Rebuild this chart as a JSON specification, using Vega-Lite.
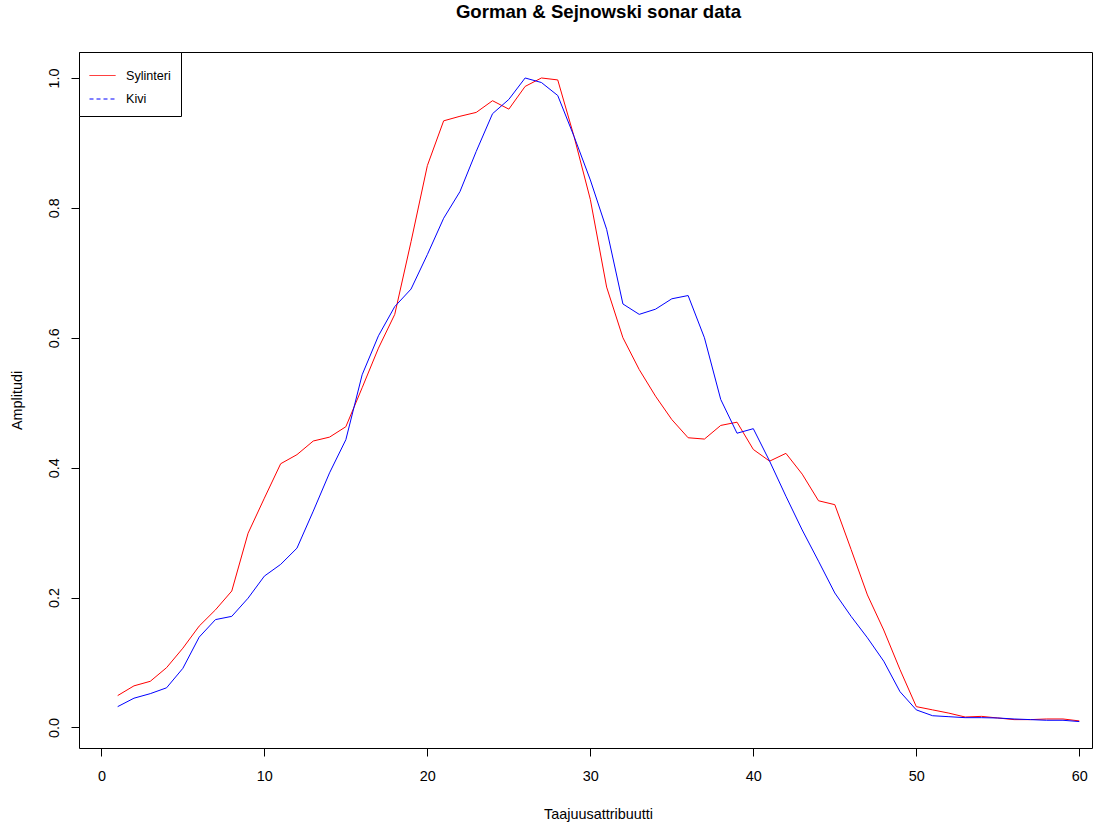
{
  "$schema": "https://vega.github.io/schema/vega-lite/v6.json",
  "autosize": {"type": "none"},
  "width": 1013,
  "height": 696,
  "padding": {"left": 79, "top": 52, "right": 15, "bottom": 75},
  "background": "white",
  "title": {
    "text": "Gorman & Sejnowski sonar data",
    "font": "Liberation Sans",
    "fontSize": 18.6,
    "fontWeight": "bold",
    "color": "black",
    "anchor": "middle",
    "offset": 30,
    "dx": 13
  },
  "config": {
    "view": {"stroke": "black", "strokeWidth": 1},
    "font": "Liberation Sans",
    "axis": {
      "grid": false,
      "domain": false,
      "tickColor": "black",
      "tickSize": 8,
      "labelFont": "Liberation Sans",
      "labelFontSize": 14.4,
      "labelColor": "black",
      "titleFont": "Liberation Sans",
      "titleFontSize": 14.4,
      "titleFontWeight": "normal",
      "titleColor": "black"
    }
  },
  "data": {
    "values": [
      {"attr": 1, "class": "Sylinteri", "amp": 0.049},
      {"attr": 2, "class": "Sylinteri", "amp": 0.064},
      {"attr": 3, "class": "Sylinteri", "amp": 0.071},
      {"attr": 4, "class": "Sylinteri", "amp": 0.092},
      {"attr": 5, "class": "Sylinteri", "amp": 0.122},
      {"attr": 6, "class": "Sylinteri", "amp": 0.156},
      {"attr": 7, "class": "Sylinteri", "amp": 0.181},
      {"attr": 8, "class": "Sylinteri", "amp": 0.210},
      {"attr": 9, "class": "Sylinteri", "amp": 0.299},
      {"attr": 10, "class": "Sylinteri", "amp": 0.353},
      {"attr": 11, "class": "Sylinteri", "amp": 0.406},
      {"attr": 12, "class": "Sylinteri", "amp": 0.420},
      {"attr": 13, "class": "Sylinteri", "amp": 0.441},
      {"attr": 14, "class": "Sylinteri", "amp": 0.447},
      {"attr": 15, "class": "Sylinteri", "amp": 0.463},
      {"attr": 16, "class": "Sylinteri", "amp": 0.523},
      {"attr": 17, "class": "Sylinteri", "amp": 0.584},
      {"attr": 18, "class": "Sylinteri", "amp": 0.636},
      {"attr": 19, "class": "Sylinteri", "amp": 0.748},
      {"attr": 20, "class": "Sylinteri", "amp": 0.865},
      {"attr": 21, "class": "Sylinteri", "amp": 0.934},
      {"attr": 22, "class": "Sylinteri", "amp": 0.941},
      {"attr": 23, "class": "Sylinteri", "amp": 0.947},
      {"attr": 24, "class": "Sylinteri", "amp": 0.965},
      {"attr": 25, "class": "Sylinteri", "amp": 0.952},
      {"attr": 26, "class": "Sylinteri", "amp": 0.987},
      {"attr": 27, "class": "Sylinteri", "amp": 1.000},
      {"attr": 28, "class": "Sylinteri", "amp": 0.997},
      {"attr": 29, "class": "Sylinteri", "amp": 0.910},
      {"attr": 30, "class": "Sylinteri", "amp": 0.813},
      {"attr": 31, "class": "Sylinteri", "amp": 0.678},
      {"attr": 32, "class": "Sylinteri", "amp": 0.600},
      {"attr": 33, "class": "Sylinteri", "amp": 0.551},
      {"attr": 34, "class": "Sylinteri", "amp": 0.510},
      {"attr": 35, "class": "Sylinteri", "amp": 0.474},
      {"attr": 36, "class": "Sylinteri", "amp": 0.446},
      {"attr": 37, "class": "Sylinteri", "amp": 0.444},
      {"attr": 38, "class": "Sylinteri", "amp": 0.465},
      {"attr": 39, "class": "Sylinteri", "amp": 0.470},
      {"attr": 40, "class": "Sylinteri", "amp": 0.428},
      {"attr": 41, "class": "Sylinteri", "amp": 0.410},
      {"attr": 42, "class": "Sylinteri", "amp": 0.422},
      {"attr": 43, "class": "Sylinteri", "amp": 0.390},
      {"attr": 44, "class": "Sylinteri", "amp": 0.349},
      {"attr": 45, "class": "Sylinteri", "amp": 0.343},
      {"attr": 46, "class": "Sylinteri", "amp": 0.274},
      {"attr": 47, "class": "Sylinteri", "amp": 0.204},
      {"attr": 48, "class": "Sylinteri", "amp": 0.150},
      {"attr": 49, "class": "Sylinteri", "amp": 0.089},
      {"attr": 50, "class": "Sylinteri", "amp": 0.032},
      {"attr": 51, "class": "Sylinteri", "amp": 0.027},
      {"attr": 52, "class": "Sylinteri", "amp": 0.022},
      {"attr": 53, "class": "Sylinteri", "amp": 0.016},
      {"attr": 54, "class": "Sylinteri", "amp": 0.017},
      {"attr": 55, "class": "Sylinteri", "amp": 0.0145},
      {"attr": 56, "class": "Sylinteri", "amp": 0.012},
      {"attr": 57, "class": "Sylinteri", "amp": 0.012},
      {"attr": 58, "class": "Sylinteri", "amp": 0.013},
      {"attr": 59, "class": "Sylinteri", "amp": 0.013},
      {"attr": 60, "class": "Sylinteri", "amp": 0.010},
      {"attr": 1, "class": "Kivi", "amp": 0.032},
      {"attr": 2, "class": "Kivi", "amp": 0.045},
      {"attr": 3, "class": "Kivi", "amp": 0.052},
      {"attr": 4, "class": "Kivi", "amp": 0.061},
      {"attr": 5, "class": "Kivi", "amp": 0.091},
      {"attr": 6, "class": "Kivi", "amp": 0.139},
      {"attr": 7, "class": "Kivi", "amp": 0.166},
      {"attr": 8, "class": "Kivi", "amp": 0.171},
      {"attr": 9, "class": "Kivi", "amp": 0.199},
      {"attr": 10, "class": "Kivi", "amp": 0.233},
      {"attr": 11, "class": "Kivi", "amp": 0.251},
      {"attr": 12, "class": "Kivi", "amp": 0.276},
      {"attr": 13, "class": "Kivi", "amp": 0.333},
      {"attr": 14, "class": "Kivi", "amp": 0.392},
      {"attr": 15, "class": "Kivi", "amp": 0.443},
      {"attr": 16, "class": "Kivi", "amp": 0.543},
      {"attr": 17, "class": "Kivi", "amp": 0.603},
      {"attr": 18, "class": "Kivi", "amp": 0.648},
      {"attr": 19, "class": "Kivi", "amp": 0.675},
      {"attr": 20, "class": "Kivi", "amp": 0.728},
      {"attr": 21, "class": "Kivi", "amp": 0.784},
      {"attr": 22, "class": "Kivi", "amp": 0.825},
      {"attr": 23, "class": "Kivi", "amp": 0.887},
      {"attr": 24, "class": "Kivi", "amp": 0.945},
      {"attr": 25, "class": "Kivi", "amp": 0.967},
      {"attr": 26, "class": "Kivi", "amp": 1.000},
      {"attr": 27, "class": "Kivi", "amp": 0.993},
      {"attr": 28, "class": "Kivi", "amp": 0.973},
      {"attr": 29, "class": "Kivi", "amp": 0.910},
      {"attr": 30, "class": "Kivi", "amp": 0.843},
      {"attr": 31, "class": "Kivi", "amp": 0.767},
      {"attr": 32, "class": "Kivi", "amp": 0.652},
      {"attr": 33, "class": "Kivi", "amp": 0.636},
      {"attr": 34, "class": "Kivi", "amp": 0.644},
      {"attr": 35, "class": "Kivi", "amp": 0.660},
      {"attr": 36, "class": "Kivi", "amp": 0.665},
      {"attr": 37, "class": "Kivi", "amp": 0.600},
      {"attr": 38, "class": "Kivi", "amp": 0.505},
      {"attr": 39, "class": "Kivi", "amp": 0.453},
      {"attr": 40, "class": "Kivi", "amp": 0.460},
      {"attr": 41, "class": "Kivi", "amp": 0.410},
      {"attr": 42, "class": "Kivi", "amp": 0.356},
      {"attr": 43, "class": "Kivi", "amp": 0.304},
      {"attr": 44, "class": "Kivi", "amp": 0.256},
      {"attr": 45, "class": "Kivi", "amp": 0.207},
      {"attr": 46, "class": "Kivi", "amp": 0.171},
      {"attr": 47, "class": "Kivi", "amp": 0.138},
      {"attr": 48, "class": "Kivi", "amp": 0.102},
      {"attr": 49, "class": "Kivi", "amp": 0.055},
      {"attr": 50, "class": "Kivi", "amp": 0.027},
      {"attr": 51, "class": "Kivi", "amp": 0.018},
      {"attr": 52, "class": "Kivi", "amp": 0.0165},
      {"attr": 53, "class": "Kivi", "amp": 0.015},
      {"attr": 54, "class": "Kivi", "amp": 0.015},
      {"attr": 55, "class": "Kivi", "amp": 0.0145},
      {"attr": 56, "class": "Kivi", "amp": 0.013},
      {"attr": 57, "class": "Kivi", "amp": 0.012},
      {"attr": 58, "class": "Kivi", "amp": 0.011},
      {"attr": 59, "class": "Kivi", "amp": 0.011},
      {"attr": 60, "class": "Kivi", "amp": 0.009}
    ]
  },
  "mark": {"type": "line", "strokeWidth": 1, "clip": true},
  "encoding": {
    "x": {
      "field": "attr",
      "type": "quantitative",
      "title": "Taajuusattribuutti",
      "scale": {"domain": [-1.373, 60.78], "nice": false, "zero": false},
      "axis": {
        "values": [0, 10, 20, 30, 40, 50, 60],
        "format": "d",
        "labelPadding": 13,
        "titlePadding": 25,
        "titleX": 519
      }
    },
    "y": {
      "field": "amp",
      "type": "quantitative",
      "title": "Amplitudi",
      "scale": {"domain": [-0.0317, 1.04], "nice": false, "zero": false},
      "axis": {
        "values": [0, 0.2, 0.4, 0.6, 0.8, 1.0],
        "format": ".1f",
        "labelAngle": 270,
        "labelAlign": "center",
        "labelBaseline": "bottom",
        "labelPadding": 10,
        "titlePadding": 22
      }
    },
    "color": {
      "field": "class",
      "type": "nominal",
      "scale": {"domain": ["Sylinteri", "Kivi"], "range": ["#ff0000", "#0000ff"]},
      "legend": {
        "title": null,
        "orient": "none",
        "legendX": 0,
        "legendY": 0,
        "strokeColor": "black",
        "fillColor": "white",
        "padding": 10,
        "symbolType": "stroke",
        "symbolSize": 676,
        "symbolStrokeWidth": 1,
        "labelFont": "Liberation Sans",
        "labelFontSize": 12.6,
        "labelColor": "black",
        "labelOffset": 10,
        "rowPadding": 2.5,
        "encode": {
          "symbols": {
            "update": {
              "stroke": [
                {"test": "datum.value === 'Kivi'", "value": "#0000ff"},
                {"value": "#ff0000"}
              ],
              "strokeDash": [
                {"test": "datum.value === 'Kivi'", "value": [4, 3]},
                {"value": [1, 0]}
              ]
            }
          }
        }
      }
    }
  }
}
